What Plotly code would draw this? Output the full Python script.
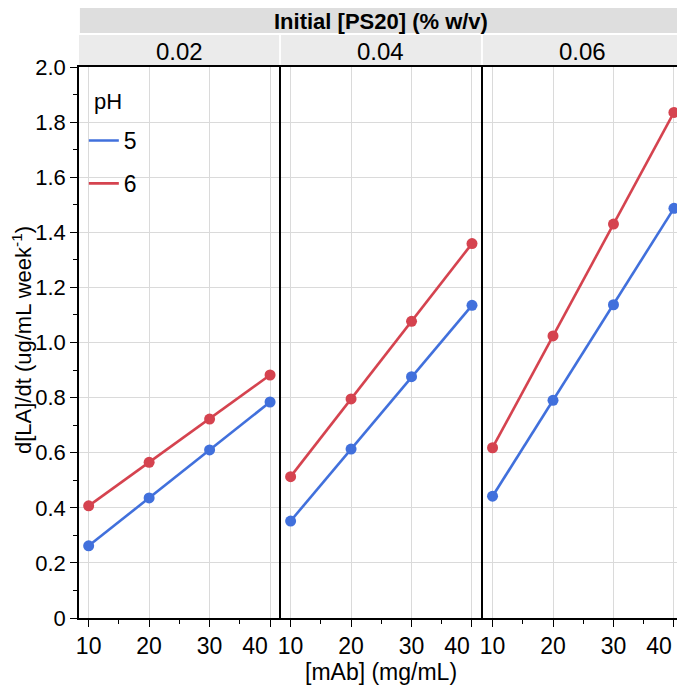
import plotly.graph_objects as go
from plotly.subplots import make_subplots

mab = [10, 20, 30, 40]
mab_labels = ["10", "20", "30", ""]
last_tick = [40]
last_label = ["40"]
ps20_levels = ["0.02", "0.04", "0.06"]
ph5 = {
    "0.02": [0.262, 0.436, 0.610, 0.784],
    "0.04": [0.352, 0.613, 0.876, 1.135],
    "0.06": [0.442, 0.790, 1.137, 1.487],
}
ph6 = {
    "0.02": [0.407, 0.565, 0.722, 0.882],
    "0.04": [0.513, 0.795, 1.077, 1.359],
    "0.06": [0.618, 1.024, 1.430, 1.835],
}
y_ticks = [0, 0.2, 0.4, 0.6, 0.8, 1.0, 1.2, 1.4, 1.6, 1.8, 2.0]
y_labels = ["0", "0.2", "0.4", "0.6", "0.8", "1.0", "1.2", "1.4", "1.6", "1.8", "2.0"]

BLUE = "#4170DC"
RED = "#D5434F"
FONT = "Liberation Sans"
TICK = 22
XRANGE = [8.4, 41.5]

fig = make_subplots(rows=1, cols=3, shared_yaxes=True, horizontal_spacing=0.003)

for i, lvl in enumerate(ps20_levels):
    for name, data, col in (("5", ph5, BLUE), ("6", ph6, RED)):
        fig.add_trace(go.Scatter(
            x=mab, y=data[lvl], mode="lines+markers", name=name,
            line=dict(color=col, width=2.6),
            marker=dict(color=col, size=11),
            showlegend=False,
        ), row=1, col=i + 1)

# legend entries (line only)
for name, col in (("5", BLUE), ("6", RED)):
    fig.add_trace(go.Scatter(x=[None], y=[None], mode="lines", name=name,
                             line=dict(color=col, width=2.6), legendgroup=name,
                             showlegend=True), row=1, col=1)

for i in range(3):
    fig.update_xaxes(
        range=XRANGE, tickvals=mab, ticktext=mab_labels, automargin=False,
        ticks="outside", ticklen=7, tickwidth=1.3,
        tickcolor="black", showline=True, linecolor="black", linewidth=1.5, mirror=True,
        showgrid=True, gridcolor="#DADADA", gridwidth=1.3, zeroline=False,
        minor=dict(tickvals=[15, 25, 35], ticks="outside", ticklen=4, tickcolor="black", showgrid=False),
        tickfont=dict(size=23, color="black", family=FONT),
        row=1, col=i + 1)
    fig.update_yaxes(
        range=[0, 2.0], dtick=0.2, showline=True, linecolor="black", linewidth=1.5,
        showgrid=True, gridcolor="#DADADA", gridwidth=1.3, zeroline=False,
        mirror=(i == 2), automargin=False,
        row=1, col=i + 1)

# overlay x axes carrying the last label, nudged left of its tick
for i in range(3):
    base = "x" if i == 0 else f"x{i+1}"
    ybase = "y" if i == 0 else f"y{i+1}"
    n = 4 + i
    fig.update_layout(**{f"xaxis{n}": dict(
        overlaying=base, anchor=ybase, side="bottom", range=XRANGE,
        tickvals=last_tick, ticktext=last_label, ticklabelshift=-15,
        ticks="outside", ticklen=7, tickcolor="rgba(0,0,0,0)",
        showgrid=False, showline=False, zeroline=False, automargin=False,
        tickfont=dict(size=23, color="black", family=FONT))})
    fig.add_trace(go.Scatter(x=[None], y=[None], xaxis=f"x{n}", yaxis=ybase,
                             showlegend=False, hoverinfo="skip"))

fig.update_yaxes(
    ticks="outside", ticklen=7, tickwidth=1.3, tickcolor="black",
    tickvals=y_ticks, ticktext=y_labels,
    minor=dict(dtick=0.1, ticks="outside", ticklen=4, tickcolor="black", showgrid=False),
    tickfont=dict(size=TICK, color="black", family=FONT),
    row=1, col=1)

# page body has an 8px margin: figure coordinates = reference pixels - 8
OFF = 8
PLOT_TOP = 67 - OFF
PLOT_BOT = 618 - OFF
PLOT_L = 79
PLOT_R = 683
H_PLOT = float(PLOT_BOT - PLOT_TOP)
W_PLOT = float(PLOT_R - PLOT_L)
def py(p):
    return (618 - p) / H_PLOT
def px(p):
    return (p - PLOT_L) / W_PLOT

shapes = []
annotations = []
shapes.append(dict(type="rect", xref="paper", yref="paper", x0=0.0015, x1=1.004,
                   y0=py(33), y1=py(OFF), fillcolor="#DEDEDE", line=dict(width=0), layer="below"))
annotations.append(dict(text="<b>Initial [PS20] (% w/v)</b>", xref="paper", yref="paper",
                        x=0.5, y=py(21), showarrow=False,
                        font=dict(size=22, color="black", family=FONT), yanchor="middle"))
for i, lvl in enumerate(ps20_levels):
    xr = "x domain" if i == 0 else f"x{i+1} domain"
    shapes.append(dict(type="rect", xref=xr, yref="paper", x0=0.0, x1=1.0,
                       y0=py(66), y1=py(35), fillcolor="#EBEBEB", line=dict(width=0), layer="below"))
    annotations.append(dict(text=lvl, xref=xr, yref="paper", x=0.5, y=py(51),
                            showarrow=False, yanchor="middle",
                            font=dict(size=24, color="black", family=FONT)))

# axis titles
annotations.append(dict(text="d[LA]/dt (ug/mL week<sup>-1</sup>)", xref="paper", yref="paper",
                        x=px(22), y=py(340), textangle=-90, showarrow=False,
                        xanchor="center", yanchor="middle",
                        font=dict(size=22, color="black", family=FONT)))
annotations.append(dict(text="[mAb] (mg/mL)", xref="paper", yref="paper",
                        x=0.5, y=py(672), showarrow=False,
                        xanchor="center", yanchor="middle",
                        font=dict(size=23, color="black", family=FONT)))
# legend title
annotations.append(dict(text="pH", xref="paper", yref="paper",
                        x=px(92), y=py(101), showarrow=False,
                        xanchor="left", yanchor="middle",
                        font=dict(size=TICK, color="black", family=FONT)))

fig.update_layout(
    width=685 - OFF, height=690 - OFF,
    margin=dict(l=PLOT_L - OFF, r=685 - PLOT_R, t=PLOT_TOP, b=690 - OFF - PLOT_BOT, autoexpand=False),
    plot_bgcolor="white", paper_bgcolor="white",
    font=dict(family=FONT, color="black"),
    shapes=shapes, annotations=annotations,
    legend=dict(x=0.008, y=py(119), xanchor="left", yanchor="top",
                bgcolor="rgba(0,0,0,0)", traceorder="grouped", tracegroupgap=10,
                font=dict(size=23, family=FONT), itemwidth=30),
)

fig.write_html("out.html")
